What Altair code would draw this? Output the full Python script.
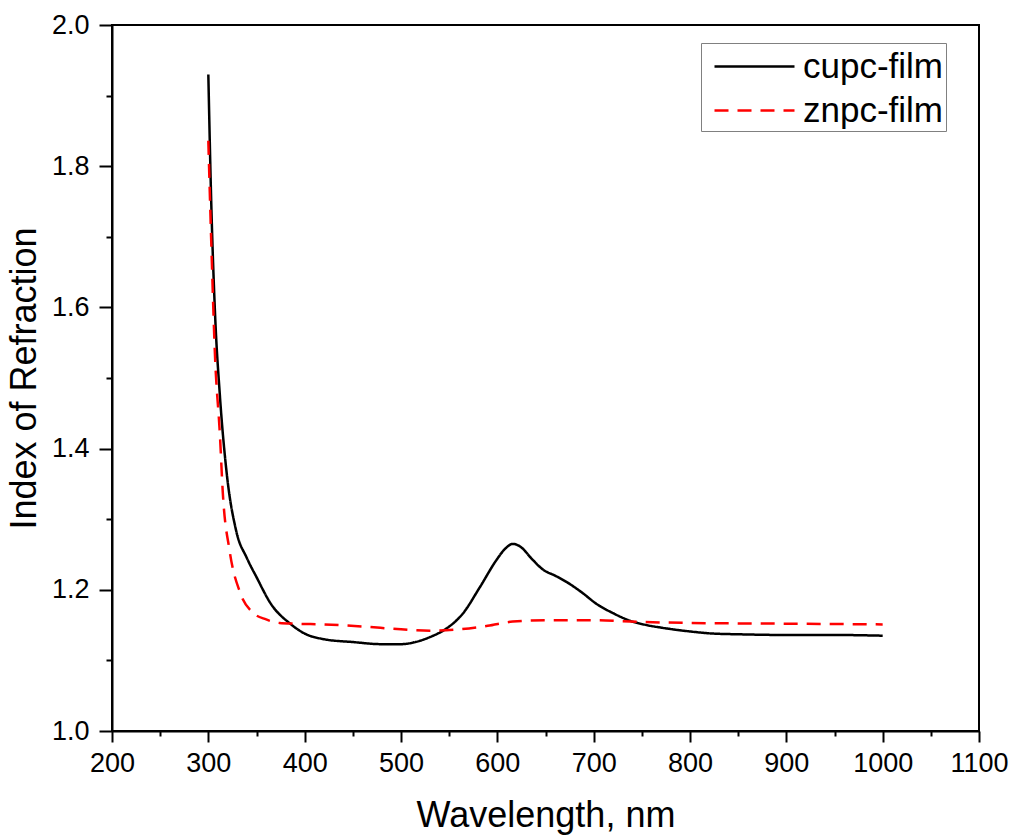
import altair as alt
import pandas as pd

# cupc-film (solid black)
wl_cu = [300, 303, 307, 312, 319, 329, 340, 350, 365, 385, 400, 420, 450, 480, 500,
         515, 530, 547, 564, 582, 599, 608, 616, 625, 635, 648, 660, 672, 688, 703,
         720, 738, 755, 772, 800, 824, 850, 900, 950, 1000]
n_cu = [1.93, 1.75, 1.59, 1.475, 1.366, 1.283, 1.245, 1.218, 1.18, 1.152, 1.138, 1.13,
        1.126, 1.123, 1.123, 1.126, 1.133, 1.145, 1.166, 1.204, 1.242, 1.258, 1.265,
        1.26, 1.245, 1.228, 1.22, 1.211, 1.196, 1.18, 1.167, 1.156, 1.15, 1.146,
        1.141, 1.138, 1.137, 1.136, 1.136, 1.135]

# znpc-film (dashed red)
wl_zn = [300, 303, 307, 312, 315, 322, 333, 346, 360, 374, 390, 420, 460, 500, 530,
         560, 590, 616, 650, 675, 700, 738, 800, 900, 1000]
n_zn = [1.836, 1.694, 1.529, 1.42, 1.338, 1.256, 1.196, 1.168, 1.158, 1.153, 1.152,
        1.151, 1.148, 1.144, 1.142, 1.144, 1.149, 1.155, 1.157, 1.157, 1.157, 1.155,
        1.153, 1.152, 1.151]

series = ["cupc-film", "znpc-film"]
colors = ["#000000", "#ff0000"]
dashes = [[1, 0], [14, 9]]

df = pd.concat([
    pd.DataFrame({"wl": wl_cu, "n": n_cu, "series": series[0], "order": range(len(wl_cu))}),
    pd.DataFrame({"wl": wl_zn, "n": n_zn, "series": series[1], "order": range(len(wl_zn))}),
])

FONT = "Liberation Sans"

x_vals = list(range(200, 1101, 50))
y_vals = [round(1 + i / 10, 1) for i in range(11)]

chart = alt.Chart(df).mark_line(strokeWidth=2.5, interpolate="monotone").encode(
    x=alt.X("wl:Q",
            scale=alt.Scale(domain=[200, 1100], nice=False, zero=False),
            axis=alt.Axis(title="Wavelength, nm", values=x_vals, format="d",
                          labelExpr="datum.value % 100 === 0 ? datum.label : ''",
                          tickSize={"condition": {"test": "datum.value % 100 === 0", "value": 11}, "value": 5},
                          labelFlush=False, labelPadding=8, titlePadding=22)),
    y=alt.Y("n:Q",
            scale=alt.Scale(domain=[1.0, 2.0], nice=False, zero=False),
            axis=alt.Axis(title="Index of Refraction", values=y_vals, format=".1f",
                          labelExpr="round(datum.value * 10) % 2 === 0 ? datum.label : ''",
                          tickSize={"condition": {"test": "round(datum.value * 10) % 2 === 0", "value": 13}, "value": 6},
                          labelFlush=False, labelPadding=10, titlePadding=8)),
    color=alt.Color("series:N", scale=alt.Scale(domain=series, range=colors),
                    legend=alt.Legend(title=None)),
    strokeDash=alt.StrokeDash("series:N", scale=alt.Scale(domain=series, range=dashes),
                              legend=alt.Legend(title=None)),
    order="order:Q",
).properties(
    width=867, height=706,
    autosize=alt.AutoSizeParams(type="none"),
    padding={"left": 112, "top": 25, "right": 37, "bottom": 107},
).configure_view(
    stroke="#000000", strokeWidth=2,
).configure_axis(
    grid=False, domainColor="#000000", domainWidth=2,
    tickColor="#000000", tickWidth=2,
    labelFont=FONT, labelFontSize=27, labelColor="#000000",
    titleFont=FONT, titleFontSize=36, titleFontWeight="normal", titleColor="#000000",
).configure_legend(
    orient="none", legendX=589, legendY=18,
    strokeColor="#808080", strokeWidth=1, fillColor="#ffffff",
    padding=2, rowPadding=4,
    symbolType="M-0.5,0H3.5", symbolSize=1600, symbolStrokeWidth=2.5,
    labelFont=FONT, labelFontSize=35, labelColor="#000000", labelOffset=57,
    labelLimit=400,
)

chart.save("out.html", embed_options={"renderer": "svg", "actions": False})
